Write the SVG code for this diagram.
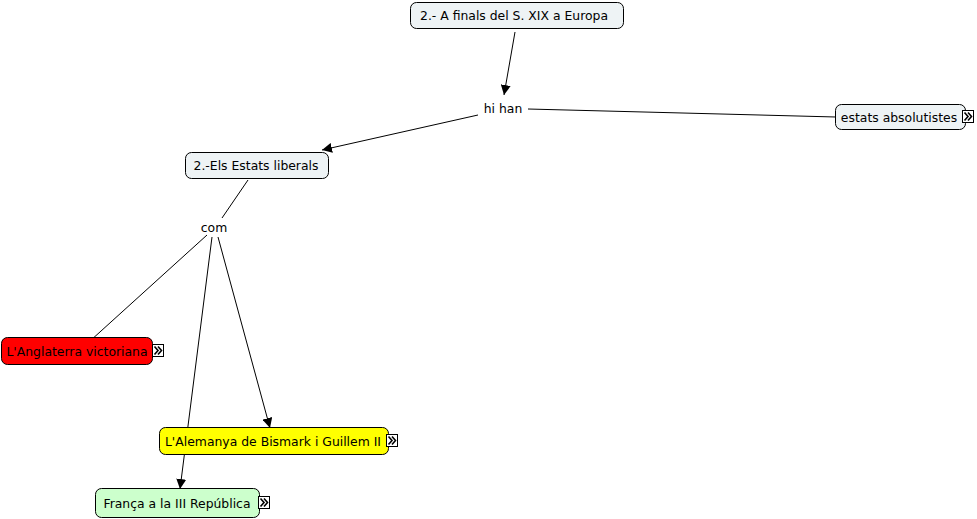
<svg xmlns="http://www.w3.org/2000/svg" width="977" height="519" viewBox="0 0 977 519">
<style>
.n{stroke:#000;stroke-width:1}
.t{font-family:"DejaVu Sans",Verdana,sans-serif;font-size:12.4px;fill:#000;text-anchor:middle;dominant-baseline:central}
.c{stroke:#000;stroke-width:1;fill:none}
.ic{fill:#fff;stroke:#000;stroke-width:1}
.ch{fill:none;stroke:#000;stroke-width:1.6}
</style>
<defs>
<marker id="a" viewBox="0 0 10 10" refX="10" refY="5" markerWidth="10" markerHeight="10" markerUnits="userSpaceOnUse" orient="auto">
<path d="M0,0 L10,5 L0,10 z" fill="#000"/>
</marker>
<g id="icon">
<rect class="ic" x="0.5" y="0.5" width="11" height="12"/>
<path class="ch" d="M2.5,2.5 L6,6.5 L2.5,10.5 M6,2.5 L9.5,6.5 L6,10.5"/>
</g>
</defs>
<rect width="977" height="519" fill="#fff"/>
<g id="connectors">
<line class="c" x1="515" y1="32" x2="504" y2="95" marker-end="url(#a)"/>
<line class="c" x1="528" y1="109" x2="836" y2="117"/>
<line class="c" x1="478" y1="115" x2="322" y2="150" marker-end="url(#a)"/>
<line class="c" x1="248" y1="180" x2="222" y2="218"/>
<line class="c" x1="207" y1="235" x2="90" y2="341"/>
<line class="c" x1="218" y1="237" x2="270" y2="428" marker-end="url(#a)"/>
<line class="c" x1="212" y1="237" x2="180" y2="489" marker-end="url(#a)"/>
</g>
<g id="n1">
<rect class="n" x="410.5" y="2.5" width="213" height="26" rx="6" fill="#eef3f5"/>
<text class="t" x="514" y="15.5">2.- A finals del S. XIX a Europa</text>
</g>
<g id="n2">
<text class="t" x="503" y="108">hi han</text>
</g>
<g id="n3">
<rect class="n" x="835.5" y="104.5" width="130" height="25" rx="6" fill="#eef3f5"/>
<text class="t" x="899" y="117">estats absolutistes</text>
<use href="#icon" x="962" y="110"/>
</g>
<g id="n4">
<rect class="n" x="185.5" y="152.5" width="143" height="26" rx="6" fill="#eef3f5"/>
<text class="t" x="256" y="165.5">2.-Els Estats liberals</text>
</g>
<g id="n5">
<text class="t" x="214" y="227">com</text>
</g>
<g id="n6">
<rect class="n" x="1.5" y="337.5" width="151" height="27" rx="6" fill="#ff0000"/>
<text class="t" x="77" y="351">L'Anglaterra victoriana</text>
<use href="#icon" x="152" y="344"/>
</g>
<g id="n7">
<rect class="n" x="159.5" y="427.5" width="229" height="27" rx="6" fill="#ffff00"/>
<text class="t" x="273" y="441">L'Alemanya de Bismark i Guillem II</text>
<use href="#icon" x="386" y="434"/>
</g>
<g id="n8">
<rect class="n" x="95.5" y="488.5" width="164" height="29" rx="6" fill="#ccffcc"/>
<text class="t" x="177" y="503">França a la III República</text>
<use href="#icon" x="258" y="496"/>
</g>
</svg>
